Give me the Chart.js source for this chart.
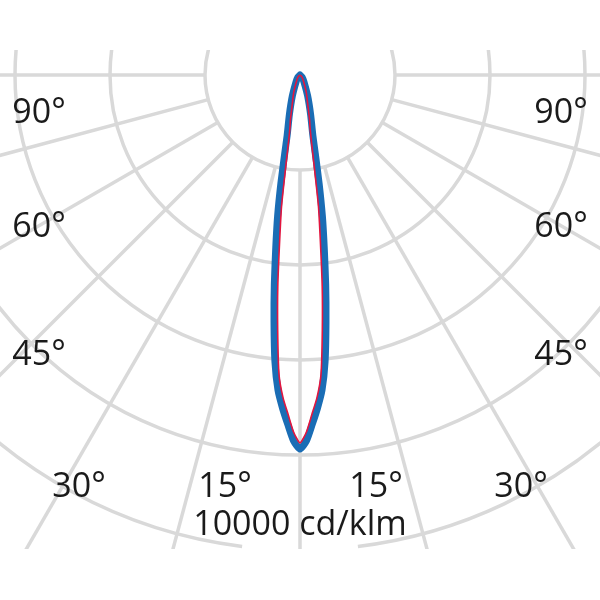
<!DOCTYPE html>
<html>
<head>
<meta charset="utf-8">
<script src="https://cdn.jsdelivr.net/npm/chart.js@4/dist/chart.umd.min.js"></script>
<style>
  body { margin: 0; background: #fff; }
</style>
</head>
<body>
<canvas id="polarChart" width="600" height="600"></canvas>
<script>
const angles = [0, 1, 2, 3, 4, 5, 6, 7, 8, 9, 10, 11, 12, 15, 20, 30, 45, 90];
// C90-C270 plane (blue), cd/klm
const bluePlane = [9840, 9630, 9200, 8780, 8310, 7570, 6540, 5540, 4580, 3770, 2900, 2110, 1630, 1080, 590, 210, 80, 0];
// C0-C180 plane (red), cd/klm
const redPlane = [9680, 9410, 8940, 8510, 7910, 6740, 5590, 4390, 3490, 2290, 1660, 1370, 1220, 780, 480, 180, 70, 0];

// grid rings (cd/klm) and spokes (deg from nadir)
const ringValues = [2500, 5000, 7500, 10000, 12500];
const spokeAngles = [0, 15, 30, 45, 60, 75, 90];

const sideLabels = ['90°', '60°', '45°'];
const bottomLabels = ['30°', '15°', '15°', '30°'];
const unitLabel = '10000 cd/klm';

// 95 px per ring of 2500 cd/klm, pole at (300, 75)
const unitsPerPx = 2500 / 95;

function toPoints(values) {
  const pts = [];
  for (let i = angles.length - 1; i >= 0; i--) {
    const a = -angles[i] * Math.PI / 180;
    pts.push({ x: values[i] * Math.sin(a), y: -values[i] * Math.cos(a) });
  }
  for (let i = 1; i < angles.length; i++) {
    const a = angles[i] * Math.PI / 180;
    pts.push({ x: values[i] * Math.sin(a), y: -values[i] * Math.cos(a) });
  }
  return pts;
}

const polarGrid = {
  id: 'polarGrid',
  beforeDatasetsDraw(chart) {
    const { ctx, scales: { x, y } } = chart;
    const cx = x.getPixelForValue(0);
    const cy = y.getPixelForValue(0);
    const px = v => x.getPixelForValue(v) - cx;

    ctx.save();
    ctx.beginPath();
    ctx.rect(0, 50, chart.width, 499);
    ctx.clip();
    ctx.strokeStyle = '#d9d9d9';
    ctx.lineWidth = 3.5;

    ringValues.forEach((v, i) => {
      const r = px(v);
      ctx.beginPath();
      if (i === ringValues.length - 1) {
        // outer ring is broken under the unit label
        const gap = 7 * Math.PI / 180;
        ctx.arc(cx, cy, r, Math.PI / 2 + gap, Math.PI / 2 - gap + 2 * Math.PI);
      } else {
        ctx.arc(cx, cy, r, 0, 2 * Math.PI);
      }
      ctx.stroke();
    });

    const r0 = px(ringValues[0]);
    const rEnd = 900;
    spokeAngles.forEach(a => {
      const t = a * Math.PI / 180;
      [-1, 1].forEach(s => {
        if (a === 0 && s === 1) return;
        const dx = Math.sin(t) * s, dy = Math.cos(t);
        ctx.beginPath();
        ctx.moveTo(cx + dx * r0, cy + dy * r0);
        ctx.lineTo(cx + dx * rEnd, cy + dy * rEnd);
        ctx.stroke();
      });
    });
    ctx.restore();
  },
  afterDraw(chart) {
    const ctx = chart.ctx;
    ctx.save();
    ctx.fillStyle = '#1a1a1a';
    ctx.font = '34px "Open Sans"';
    ctx.textAlign = 'center';
    ctx.textBaseline = 'alphabetic';
    const sideY = [123, 237, 365];
    sideLabels.forEach((t, i) => {
      ctx.fillText(t, 39, sideY[i]);
      ctx.fillText(t, 561, sideY[i]);
    });
    const bottomX = [79, 225, 376, 521];
    bottomLabels.forEach((t, i) => ctx.fillText(t, bottomX[i], 497));
    ctx.fillText(unitLabel, 300, 535);
    ctx.restore();
  }
};

new Chart(document.getElementById('polarChart'), {
  type: 'scatter',
  data: {
    datasets: [
      {
        label: 'C0-C180',
        data: toPoints(redPlane),
        showLine: true,
        borderColor: '#e2163f',
        borderWidth: 1.6,
        pointRadius: 0,
        tension: 0.2,
        fill: false
      },
      {
        label: 'C90-C270',
        data: toPoints(bluePlane),
        showLine: true,
        borderColor: '#1a6db5',
        borderWidth: 7,
        borderCapStyle: 'round',
        borderJoinStyle: 'round',
        pointRadius: 0,
        tension: 0.2,
        fill: false
      }
    ]
  },
  options: {
    responsive: false,
    animation: false,
    layout: { padding: 0 },
    plugins: { legend: { display: false }, tooltip: { enabled: false } },
    scales: {
      x: { display: false, min: -300 * unitsPerPx, max: 300 * unitsPerPx },
      y: { display: false, min: -525 * unitsPerPx, max: 75 * unitsPerPx }
    }
  },
  plugins: [polarGrid]
});
</script>
</body>
</html>
